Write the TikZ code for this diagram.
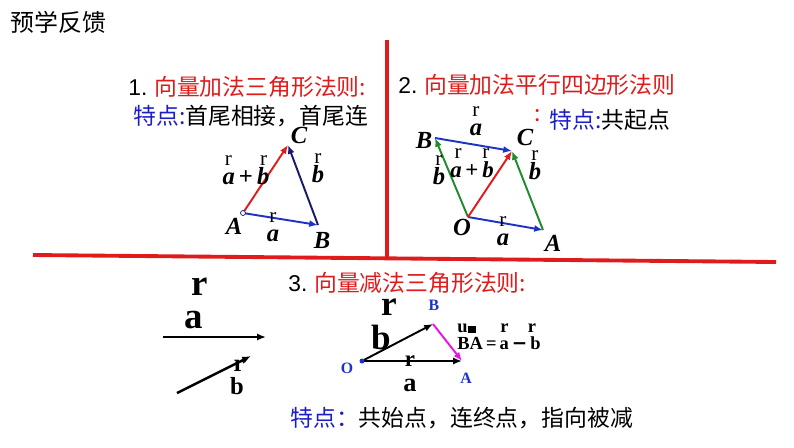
\documentclass[tikz,border=0pt]{standalone}
\usepackage{fontspec}
\setmainfont{Liberation Serif}
\newfontfamily\cjk{Noto Sans CJK SC}
\newfontfamily\arial{Liberation Sans}
\newfontfamily\dejavu{DejaVu Sans}
\usepackage {tikz}
\usetikzlibrary {positioning}
\usetikzlibrary{arrows.meta}
\definecolor{lawred}{RGB}{222,28,28}
\definecolor{ptblue}{RGB}{30,30,200}
\definecolor{vecblue}{RGB}{30,50,200}
\definecolor{vecnavy}{RGB}{25,25,110}
\definecolor{vecgreen}{RGB}{30,140,40}
\definecolor{vecpink}{RGB}{230,20,230}
\newcommand{\rr}{{\mdseries\upshape\fontsize{12}{12}\selectfont r}}
\tikzset{
    divider/.style = {draw=lawred, line width=2.2pt},
    heading/.style = {anchor=west, inner sep=0pt, font=\cjk\fontsize{13}{14}\selectfont},
    vec/.style = {-{Latex[length=5pt,width=4pt]}, line width=1.1pt},
    ptlabel/.style = {inner sep=0pt, font=\fontsize{14}{14}\selectfont\bfseries\itshape},
    veclabel/.style = {inner sep=0pt, align=center, font=\fontsize{14}{11}\selectfont\bfseries\itshape},
    sublabel/.style = {inner sep=0pt, font=\bfseries}}

\begin{document}
\begin{tikzpicture}[x=0.02cm, y=-0.02cm]
    \useasboundingbox (0,0) rectangle (794,447);
    % frame
    \node[heading, font=\cjk\fontsize{13.6}{15}\selectfont] (title) at (10,22) {预学反馈};
    \draw[divider] (387,40) -- (387,257);
    \draw[divider] (33,255) -- (776,262);
    % 1. triangle rule
    \node[heading] (law1) at (128,87) {{\arial 1.} \textcolor{lawred}{向量加法三角形法则:}};
    \node[heading] (feat1) at (133,116) {\textcolor{ptblue}{特点:}首尾相接，首尾连};
    \coordinate (A1) at (243,213);
    \coordinate (B1) at (318,225);
    \coordinate (C1) at (288,145);
    \draw[vec, vecblue] (A1) -- (B1);
    \draw[vec, vecnavy] (B1) -- (C1);
    \draw[vec, lawred] (A1) -- (C1);
    \node[circle, draw=vecnavy, fill=white, inner sep=1pt] (A1dot) at (A1) {};
    \node[ptlabel] (A1lab) at (234,226) {A};
    \node[ptlabel] (B1lab) at (322,240) {B};
    \node[ptlabel] (C1lab) at (299,135) {C};
    \node[veclabel] (a1) at (273,227) {\rr\\a};
    \node[veclabel] (b1) at (318,168) {\rr\\b};
    \node[veclabel] (ab1) at (246,170) {\rr\hspace{1.15em}\rr\\a\,{\upshape+}\,b};
    % 2. parallelogram rule
    \node[heading] (law2) at (398,85) {{\arial 2.} \textcolor{lawred}{向量加法平行四边形法则}};
    \node[heading] (colon2) at (534,116) {\textcolor{lawred}{:}};
    \node[heading] (feat2) at (549,120) {\textcolor{ptblue}{特点:}共起点};
    \coordinate (O2) at (468,217);
    \coordinate (A2) at (543,230);
    \coordinate (B2) at (435,138);
    \coordinate (C2) at (512,151);
    \draw[vec, vecblue] (O2) -- (A2);
    \draw[vec, vecblue] (B2) -- (C2);
    \draw[vec, vecgreen] (O2) -- (B2);
    \draw[vec, vecgreen] (A2) -- (C2);
    \draw[vec, lawred] (O2) -- (C2);
    \node[ptlabel] (O2lab) at (462,227) {O};
    \node[ptlabel] (A2lab) at (553,243) {A};
    \node[ptlabel] (B2lab) at (424,140) {B};
    \node[ptlabel] (C2lab) at (525,137) {C};
    \node[veclabel] (a2top) at (476,121) {\rr\\a};
    \node[veclabel] (a2bot) at (503,231) {\rr\\a};
    \node[veclabel] (b2left) at (439,170) {\rr\\b};
    \node[veclabel] (b2right) at (535,165) {\rr\\b};
    \node[veclabel, font=\fontsize{13}{11}\selectfont\bfseries\itshape] (ab2) at (472,163) {\rr\hspace{0.9em}\rr\\a\,{\upshape+}\,b};
    % 3. subtraction rule
    \node[heading] (law3) at (288,283) {{\arial 3.} \textcolor{lawred}{向量减法三角形法则:}};
    \coordinate (a3s) at (163,337);
    \coordinate (a3e) at (266,337);
    \coordinate (b3s) at (177,393);
    \coordinate (b3e) at (251,356);
    \draw[vec, line width=1.4pt] (a3s) -- (a3e);
    \draw[vec, line width=1.4pt] (b3s) -- (b3e);
    \node[sublabel, font=\fontsize{21}{21}\selectfont\bfseries] (a3r) at (200,287) {r};
    \node[sublabel, font=\fontsize{21}{21}\selectfont\bfseries] (a3) at (194,320) {a};
    \node[sublabel, font=\fontsize{14}{14}\selectfont\bfseries] (b3r) at (239,366) {r};
    \node[sublabel, font=\fontsize{14}{14}\selectfont\bfseries] (b3) at (237,386) {b};
    \coordinate (O3) at (362,361);
    \coordinate (A3) at (462,361);
    \coordinate (B3) at (433,324);
    \draw[vec] (O3) -- (B3);
    \draw[vec] (O3) -- (A3);
    \draw[vec, vecpink] (B3) -- (A3);
    \fill[vecblue] (O3) circle (2.5);
    \node[sublabel, text=vecblue, font=\fontsize{9}{9}\selectfont\bfseries] (O3lab) at (347,368) {O};
    \node[sublabel, text=vecblue, font=\fontsize{9}{9}\selectfont\bfseries] (A3lab) at (466,378) {A};
    \node[sublabel, text=vecblue, font=\fontsize{9}{9}\selectfont\bfseries] (B3lab) at (434,305) {B};
    \node[sublabel, font=\fontsize{20}{20}\selectfont\bfseries] (b3tr) at (389,307) {r};
    \node[sublabel, font=\fontsize{20}{20}\selectfont\bfseries] (b3t) at (381,337) {b};
    \node[sublabel, font=\fontsize{13}{13}\selectfont\bfseries] (a3tr) at (410,361) {r};
    \node[sublabel, font=\fontsize{15}{15}\selectfont\bfseries] (a3t) at (410,385) {a};
    \node[sublabel, align=left, anchor=west, font=\fontsize{10.5}{9.5}\selectfont\bfseries] (eq3) at (457,337)
        {u\rule{5pt}{4pt}\hspace{1.3em}r\hspace{1.05em}r\\BA\,=\,a\,{\dejavu\bfseries −}\,b};
    \node[heading] (feat3) at (290,418) {\textcolor{ptblue}{特点：}共始点，连终点，指向被减};
\end{tikzpicture}
\end{document}
